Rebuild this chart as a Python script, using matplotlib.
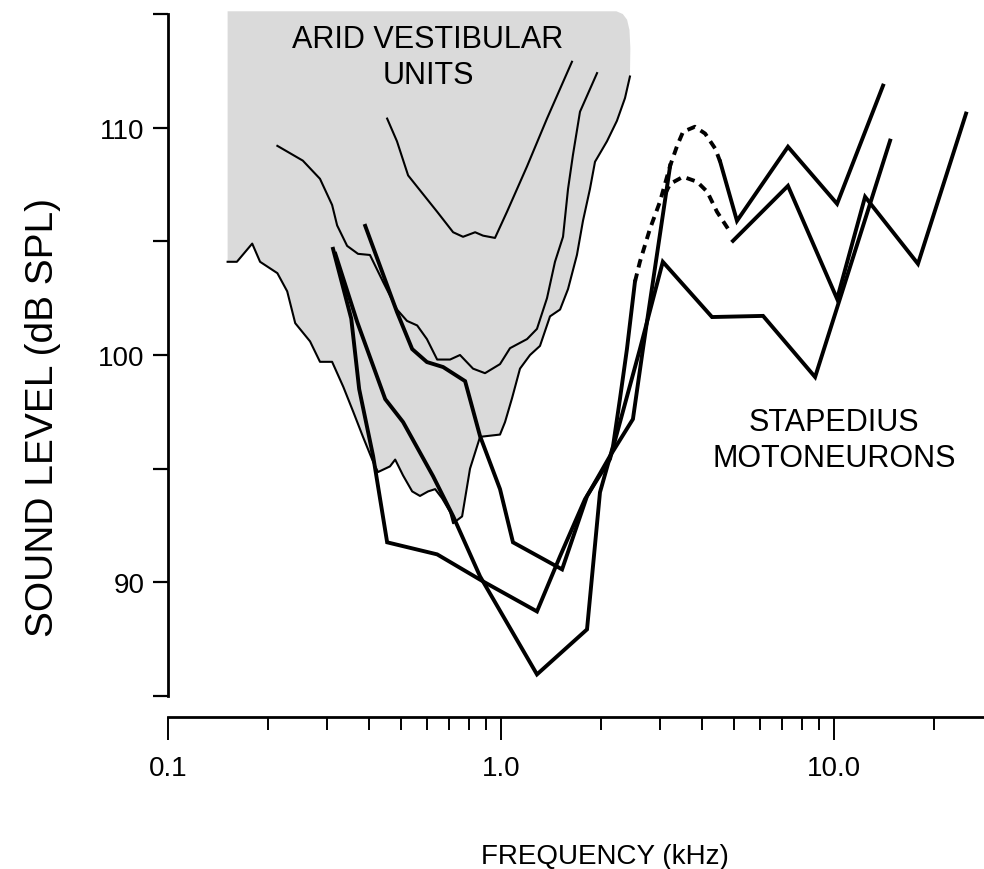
import matplotlib.pyplot as plt
from matplotlib.ticker import FixedLocator, NullFormatter

plt.rcParams['font.family'] = ['Liberation Sans', 'DejaVu Sans']
plt.rcParams['hatch.color'] = '#8a8a8a'
plt.rcParams['hatch.linewidth'] = 0.6

# --- vestibular units (thin lines): frequency (kHz), threshold (dB SPL) ---
vest_outer_f = [0.151, 0.161, 0.179, 0.189, 0.213, 0.228, 0.241, 0.267, 0.286, 0.311,
                0.336, 0.360, 0.385, 0.413, 0.427, 0.464, 0.481, 0.508, 0.541, 0.571,
                0.604, 0.634, 0.665, 0.703, 0.718, 0.764, 0.807, 0.865, 0.993, 1.028,
                1.079, 1.140, 1.222, 1.309, 1.403, 1.504, 1.589, 1.690, 1.762, 1.849,
                1.915, 2.080, 2.228, 2.356, 2.438]
vest_outer_db = [104.1, 104.1, 104.9, 104.1, 103.6, 102.8, 101.4, 100.6, 99.7, 99.7,
                 98.6, 97.5, 96.4, 95.3, 94.85, 95.1, 95.4, 94.7, 94.0, 93.8,
                 94.0, 94.1, 93.7, 93.1, 92.6, 92.9, 95.0, 96.4, 96.5, 97.05,
                 98.1, 99.4, 100.0, 100.4, 101.7, 102.0, 102.9, 104.4, 105.9, 107.3,
                 108.5, 109.4, 110.3, 111.3, 112.25]

vest_mid_f = [0.213, 0.254, 0.286, 0.311, 0.322, 0.345, 0.372, 0.404, 0.443, 0.487,
              0.522, 0.560, 0.599, 0.643, 0.703, 0.753, 0.824, 0.895, 0.993, 1.064,
              1.197, 1.282, 1.374, 1.452, 1.535, 1.589, 1.644, 1.726, 1.942]
vest_mid_db = [109.2, 108.55, 107.75, 106.6, 105.7, 104.8, 104.45, 104.4, 103.2, 102.0,
               101.5, 101.3, 100.7, 99.8, 99.8, 100.0, 99.4, 99.2, 99.6, 100.3,
               100.7, 101.15, 102.5, 104.1, 105.2, 107.3, 108.8, 110.7, 112.4]

vest_top_f = [0.455, 0.487, 0.526, 0.560, 0.643, 0.718, 0.769, 0.836, 0.883, 0.959,
              1.042, 1.197, 1.374, 1.633]
vest_top_db = [110.4, 109.4, 107.9, 107.4, 106.3, 105.4, 105.2, 105.4, 105.25, 105.15,
               106.3, 108.3, 110.4, 112.9]

# upper edge of the shaded vestibular area (right corner back to the left side)
shade_top_f = [2.445, 2.43, 2.39, 2.32, 2.22, 0.151]
shade_top_db = [113.5, 114.3, 114.75, 115.0, 115.12, 115.12]

# --- stapedius motoneurons (thick lines) ---
sa_f = [0.318, 0.370, 0.449, 0.508, 0.625, 0.718, 0.865, 1.282, 1.812, 1.982,
        2.169, 2.275, 2.388, 2.524]
sa_db = [104.45, 101.45, 98.06, 97.05, 94.67, 92.91, 90.26, 85.95, 87.93, 93.96,
         95.99, 98.06, 100.26, 103.22]
sa_dash_f = [2.524, 2.612, 2.80, 3.00, 3.22, 3.38, 3.52, 3.82, 4.10, 4.40, 4.55]
sa_dash_db = [103.22, 104.1, 105.55, 106.74, 108.33, 109.21, 109.82, 110.04, 109.74,
              109.07, 108.5]
sa_hi_f = [4.55, 5.11, 7.27, 10.21, 14.03]
sa_hi_db = [108.5, 105.9, 109.16, 106.65, 111.85]

sb_f = [0.391, 0.487, 0.541, 0.599, 0.670, 0.780, 0.865, 0.993, 1.086, 1.525,
        1.812, 2.123, 2.489, 2.667, 3.22]
sb_db = [105.68, 101.89, 100.26, 99.69, 99.47, 98.85, 96.43, 94.10, 91.76, 90.57,
         93.79, 95.55, 97.18, 100.26, 108.33]
sb_dash_f = [3.11, 3.22, 3.52, 3.88, 4.16, 4.45, 4.87]
sb_dash_db = [107.09, 107.53, 107.84, 107.62, 107.18, 106.30, 105.42]
sb_hi_f = [4.97, 7.27, 10.21, 12.39, 17.86, 24.9]
sb_hi_db = [105.02, 107.44, 102.47, 106.96, 104.01, 110.62]

sc_f = [0.313, 0.355, 0.375, 0.413, 0.455, 0.643, 0.883, 1.282, 1.504, 1.787,
        2.123, 2.612, 3.06, 4.30, 6.12, 8.77, 14.73]
sc_db = [104.67, 101.6, 98.5, 95.55, 91.76, 91.23, 90.04, 88.72, 91.15, 93.66,
         95.42, 100.26, 104.10, 101.67, 101.72, 99.03, 109.43]

fig = plt.figure(figsize=(9.84, 8.7), dpi=100)
ax = fig.add_axes([168 / 984, 173 / 870, 815 / 984, 682 / 870])

ax.set_xscale('log')
ax.set_xlim(0.1, 28)
ax.set_ylim(85, 115)

# shaded (stippled) area of vestibular units
ax.fill(vest_outer_f + shade_top_f, vest_outer_db + shade_top_db,
        facecolor='#dadada', edgecolor='none', hatch='.....', clip_on=False, zorder=1)

thin = dict(color='black', lw=1.5, zorder=3, solid_joinstyle='round')
ax.plot(vest_outer_f, vest_outer_db, **thin)
ax.plot(vest_mid_f, vest_mid_db, **thin)
ax.plot(vest_top_f, vest_top_db, **thin)

thick = dict(color='black', lw=2.8, zorder=4, solid_joinstyle='miter')
dashed = dict(color='black', lw=2.8, ls=(0, (2.2, 1.6)), zorder=4)
ax.plot(sa_f, sa_db, **thick)
ax.plot(sa_dash_f, sa_dash_db, **dashed)
ax.plot(sa_hi_f, sa_hi_db, **thick)
ax.plot(sb_f, sb_db, **thick)
ax.plot(sb_dash_f, sb_dash_db, **dashed)
ax.plot(sb_hi_f, sb_hi_db, **thick)
ax.plot(sc_f, sc_db, **thick)

# axes styling
for s in ['top', 'right']:
    ax.spines[s].set_visible(False)
ax.spines['left'].set_linewidth(2)
ax.spines['bottom'].set_linewidth(2)
ax.spines['bottom'].set_position(('outward', 15))

ax.yaxis.set_major_locator(FixedLocator([85, 90, 95, 100, 105, 110, 115]))
ax.set_yticklabels(['', '90', '', '100', '', '110', ''])
ax.tick_params(axis='y', length=11, width=1.6, pad=6, labelsize=20)

ax.xaxis.set_major_locator(FixedLocator([0.1, 1.0, 10.0]))
ax.xaxis.set_minor_locator(FixedLocator([0.2, 0.3, 0.4, 0.5, 0.6, 0.7, 0.8, 0.9,
                                         2, 3, 4, 5, 6, 7, 8, 9, 20]))
ax.xaxis.set_minor_formatter(NullFormatter())
ax.set_xticklabels(['0.1', '1.0', '10.0'])
ax.tick_params(axis='x', which='major', length=16.5, width=1.4, pad=11, labelsize=20)
ax.tick_params(axis='x', which='minor', length=9.5, width=1.4)

fig.text(43 / 984, 1 - 418 / 870, 'SOUND LEVEL (dB SPL)', rotation=90,
         ha='center', va='center', fontsize=28)
fig.text(605 / 984, 1 - 857 / 870, 'FREQUENCY (kHz)', ha='center', va='center',
         fontsize=20)

ax.text(0.604, 113.1, 'ARID VESTIBULAR\nUNITS', ha='center', va='center',
        fontsize=22, linespacing=1.25, zorder=5)
ax.text(10.0, 96.26, 'STAPEDIUS\nMOTONEURONS', ha='center', va='center',
        fontsize=22, linespacing=1.25, zorder=5)

fig.savefig('out.png', dpi=100)
